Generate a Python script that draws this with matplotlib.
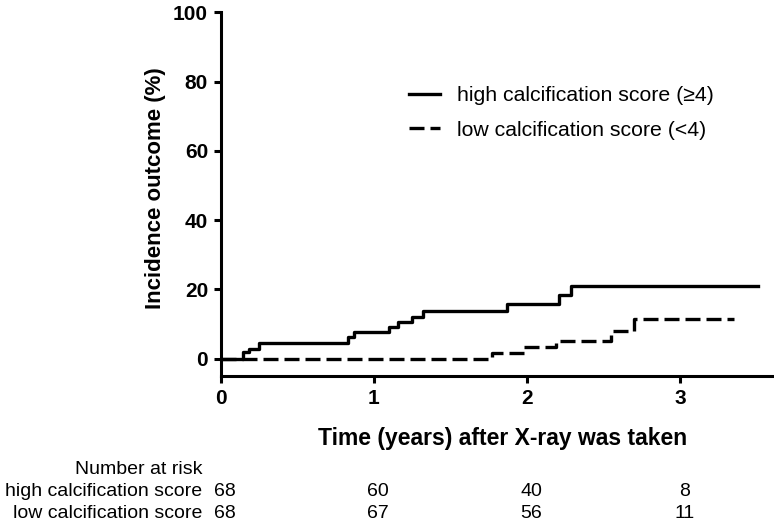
import matplotlib
matplotlib.use("Agg")
import matplotlib.pyplot as plt

plt.rcParams['font.family'] = ['Liberation Sans', 'DejaVu Sans']

# step curves (time in years, cumulative incidence in %)
high_t = [0, 0.147, 0.186, 0.25, 0.83, 0.87, 1.10, 1.16, 1.25, 1.32, 1.87, 2.21, 2.29, 3.51]
high_y = [0, 1.8, 2.7, 4.5, 6.2, 7.6, 9.1, 10.6, 12.0, 13.8, 15.9, 18.5, 21.0, 21.0]
low_t = [0, 1.775, 1.98, 2.19, 2.55, 2.70, 3.35]
low_y = [0, 1.6, 3.4, 5.2, 7.9, 11.4, 11.4]

# number at risk table
risk_times = [0, 1, 2, 3]
risk_high = [68, 60, 40, 8]
risk_low = [68, 67, 56, 11]
risk_labels = ['high calcification score', 'low calcification score']

W, H = 774, 524
fig = plt.figure(figsize=(W / 100, H / 100), dpi=100)
ax = fig.add_axes([220.5 / W, 1 - 376 / H, (772 - 220.5) / W, (376 - 12.3) / H])

ax.step(high_t, high_y, where='post', color='black', lw=2.4,
        label='high calcification score (\u22654)')
ax.step(low_t, low_y, where='post', color='black', lw=2.4, dashes=(4.5, 1.8),
        label='low calcification score (<4)')

ax.set_xlim(0, 3.6)
ax.set_ylim(-5, 100)
ax.set_xticks([0, 1, 2, 3])
ax.set_yticks([0, 20, 40, 60, 80, 100])
for s in ['top', 'right']:
    ax.spines[s].set_visible(False)
for s in ['left', 'bottom']:
    ax.spines[s].set_linewidth(2.2)
ax.tick_params(width=2.2, length=5, labelsize=15, pad=4)
for lab in ax.get_xticklabels() + ax.get_yticklabels():
    lab.set_fontweight('bold')

ax.set_xlabel('Time (years) after X-ray was taken', fontsize=16.5, fontweight='bold')
ax.set_ylabel('Incidence outcome (%)', fontsize=16, fontweight='bold')
ax.xaxis.set_label_coords(0.512, -0.14)
ax.yaxis.set_label_coords(-0.098, 0.517)

ax.legend(loc='upper left', bbox_to_anchor=(409 / W, 1 - 86 / H), bbox_transform=fig.transFigure,
          frameon=False, fontsize=15.3, borderpad=0, borderaxespad=0,
          handlelength=1.45, handletextpad=0.8, labelspacing=0.74)

# number at risk
tr = ax.get_xaxis_transform()
def ay(py):
    return (376 - py) / (376 - 12.3)
ax.text(-0.12, ay(469), 'Number at risk', transform=tr, ha='right', va='center', fontsize=14, clip_on=False)
for row, (lab, vals) in enumerate(zip(risk_labels, [risk_high, risk_low])):
    yy = ay(491 + row * 22)
    ax.text(-0.12, yy, lab, transform=tr, ha='right', va='center', fontsize=14, clip_on=False)
    for t, v in zip(risk_times, vals):
        ax.text(t + 0.03, yy, str(v), transform=tr, ha='center', va='center', fontsize=14, clip_on=False)

fig.savefig('out.png', dpi=100)
